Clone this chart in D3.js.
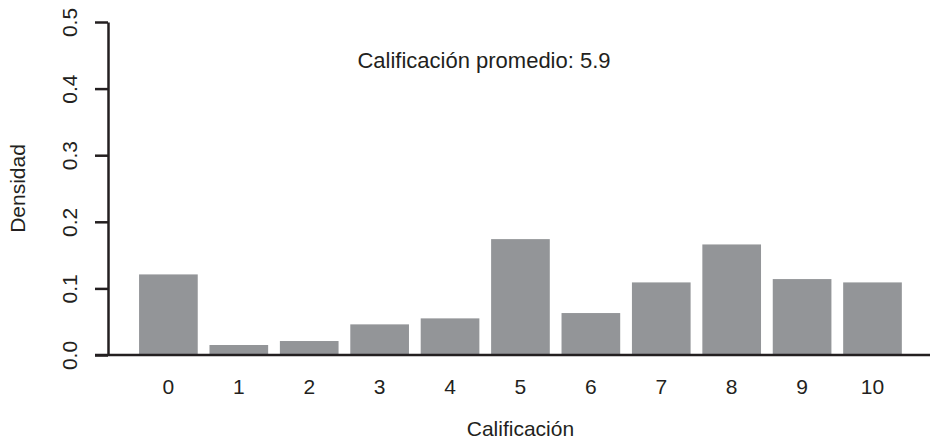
<!DOCTYPE html>
<html>
<head>
<meta charset="utf-8">
<script src="https://cdn.jsdelivr.net/npm/d3@7"></script>
<style>
  body { margin: 0; background: #fff; }
  text { font-family: "Liberation Sans", Arial, sans-serif; fill: #231f20; }
</style>
</head>
<body>
<svg id="chart" width="930" height="440"></svg>
<script>
// data
const grades = ['0','1','2','3','4','5','6','7','8','9','10'];
const density = [0.121, 0.015, 0.021, 0.046, 0.055, 0.174, 0.063, 0.109, 0.166, 0.114, 0.109];
const yTicks = [0, 0.1, 0.2, 0.3, 0.4, 0.5];
const meanLabel = 'Calificación promedio: 5.9';

const
  fontSize = '21px',
  margin = {top: 22, right: 0, bottom: 85, left: 108},
  svg = d3.select('#chart'),
  ink = '#231f20',
  barFill = '#939598'
  ;

// barplot-like layout: width 1, space 0.2
const
  step = 70.41,
  firstCenter = 168.4,
  xScale = d3.scaleBand()
    .domain(grades)
    .range([firstCenter - step / 2, firstCenter - step / 2 + step * grades.length])
    .paddingInner(1 / 6)
    .paddingOuter(1 / 12),
  yScale = d3.scaleLinear()
    .domain([0, 0.5])
    .range([355, 22])
  ;

// bars
svg.append('g')
  .selectAll('rect')
  .data(density)
  .join('rect')
  .attr('x', (d, i) => xScale(grades[i]))
  .attr('width', xScale.bandwidth())
  .attr('y', d => yScale(d))
  .attr('height', d => yScale(0) - yScale(d))
  .attr('fill', barFill)
  ;

// baseline across the plot
svg.append('line')
  .attr('x1', 95).attr('x2', 930)
  .attr('y1', yScale(0)).attr('y2', yScale(0))
  .attr('stroke', ink).attr('stroke-width', 2.5)
  ;

// y axis
const axisY = d3.axisLeft(yScale)
  .tickValues(yTicks)
  .tickFormat(d3.format('.1f'))
  .tickSize(13)
  .tickSizeOuter(0)
  ;
const gy = svg.append('g')
  .attr('transform', `translate(${margin.left},0)`)
  .call(axisY)
  ;
gy.select('.domain').attr('stroke', ink).attr('stroke-width', 2.5);
gy.selectAll('.tick line').attr('stroke', ink).attr('stroke-width', 2.5);
gy.selectAll('.tick text')
  .attr('x', null).attr('dy', null)
  .attr('transform', 'translate(-31,0) rotate(-90)')
  .attr('text-anchor', 'middle')
  .style('font-size', fontSize)
  .attr('fill', ink)
  ;

// x axis labels (no ticks)
const axisX = d3.axisBottom(xScale).tickSize(0).tickPadding(0);
const gx = svg.append('g')
  .attr('transform', `translate(0,${yScale(0)})`)
  .call(axisX)
  ;
gx.select('.domain').remove();
gx.selectAll('.tick text')
  .attr('y', 39).attr('dy', null)
  .style('font-size', fontSize)
  .attr('fill', ink)
  ;

// titles
svg.append('text')
  .attr('x', (xScale.range()[0] + xScale.range()[1]) / 2)
  .attr('y', 436)
  .attr('text-anchor', 'middle')
  .style('font-size', fontSize)
  .text('Calificación')
  ;

svg.append('text')
  .attr('transform', `translate(25,${(yScale(0) + yScale(0.5)) / 2}) rotate(-90)`)
  .attr('text-anchor', 'middle')
  .style('font-size', fontSize)
  .text('Densidad')
  ;

svg.append('text')
  .attr('x', 484)
  .attr('y', 68)
  .attr('text-anchor', 'middle')
  .style('font-size', '22px')
  .text(meanLabel)
  ;
</script>
</body>
</html>
